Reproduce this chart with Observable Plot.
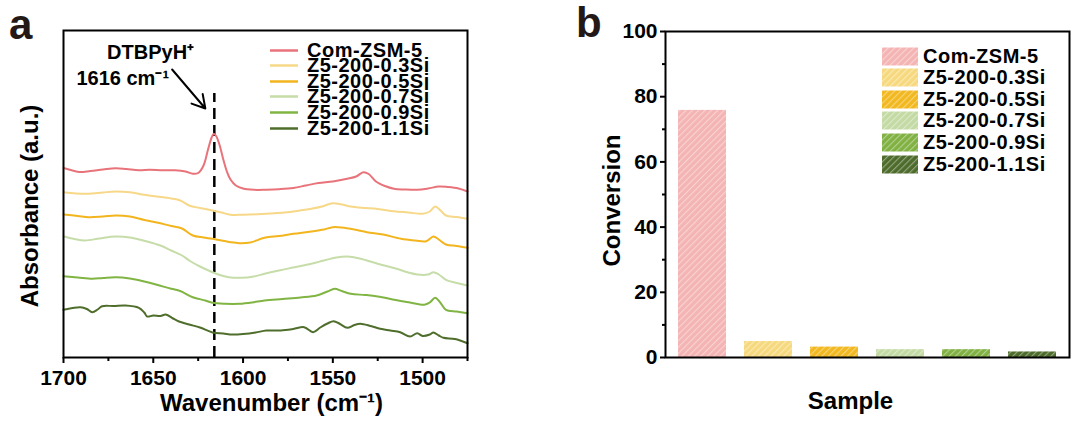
<!DOCTYPE html>
<html>
<head>
<meta charset="utf-8">
<script src="https://cdn.jsdelivr.net/npm/d3@7"></script>
<script src="https://cdn.jsdelivr.net/npm/@observablehq/plot@0.6"></script>
<style>
  html, body { margin: 0; padding: 0; background: #fff; }
  #wrap { position: relative; width: 1073px; height: 428px; font-family: "Liberation Sans", Arial, sans-serif; font-weight: bold; color: #000; }
  .panel { position: absolute; top: 0; }
  .letter { position: absolute; font-size: 42px; line-height: 1; font-weight: bold; color: #231815; }
  .leg { position: absolute; font-size: 20px; white-space: nowrap; letter-spacing: 0.5px; }
  .leg .row { position: absolute; left: 0; display: flex; align-items: center; }
  .leg svg { flex: none; }
  .leg span { display: block; }
</style>
</head>
<body>
<svg width="0" height="0" style="position:absolute">
  <defs id="patdefs"></defs>
</svg>
<div id="wrap">
  <div class="panel" id="pa" style="left:0"></div>
  <div class="panel" id="pb" style="left:560px"></div>
  <div class="letter" style="left:9px;top:4px">a</div>
  <div class="letter" style="left:576px;top:2px">b</div>
  <div class="leg" id="lega" style="left:270px;top:0"></div>
  <div class="leg" id="legb" style="left:882px;top:0"></div>
</div>
<script>
// ---------- data ----------
const seriesNames = ["Com-ZSM-5", "Z5-200-0.3Si", "Z5-200-0.5Si", "Z5-200-0.7Si", "Z5-200-0.9Si", "Z5-200-1.1Si"];
const lineColors = ["#e8737a", "#f6d888", "#f2b51e", "#c6dda9", "#80b443", "#4f6e2c"];
const barColors  = ["#f4b4b4", "#f6d97f", "#f2b820", "#c3daa4", "#80b142", "#4d6b2b"];

// wavenumber (cm-1), absorbance (a.u., offset stacked)
const comZSM5 = [[1700,1.895],[1695,1.87],[1691,1.855],[1685,1.865],[1678,1.88],[1671,1.893],[1665,1.885],[1658,1.872],[1652,1.878],[1645,1.872],[1638,1.872],[1632,1.86],[1628,1.838],[1625,1.845],[1622,1.92],[1619.5,2.08],[1617.5,2.2],[1616.3,2.237],[1615,2.215],[1613,2.12],[1611,1.98],[1609,1.86],[1607,1.78],[1604,1.72],[1600,1.69],[1594,1.677],[1587,1.678],[1580,1.683],[1572,1.695],[1565,1.72],[1558,1.745],[1550,1.76],[1542,1.787],[1537,1.81],[1533,1.853],[1530,1.835],[1526,1.76],[1521,1.715],[1516,1.688],[1510,1.68],[1503,1.677],[1497,1.69],[1491,1.71],[1486,1.705],[1480,1.69],[1475,1.66]];
const si03 = [[1700,1.653],[1693,1.64],[1686,1.637],[1678,1.65],[1671,1.66],[1663,1.652],[1655,1.627],[1648,1.61],[1640,1.59],[1635,1.57],[1630,1.52],[1624,1.495],[1617,1.47],[1612,1.45],[1607,1.428],[1600,1.428],[1592,1.432],[1585,1.44],[1577,1.45],[1570,1.465],[1562,1.487],[1556,1.51],[1550,1.543],[1545,1.53],[1540,1.51],[1534,1.497],[1525,1.485],[1516,1.463],[1508,1.45],[1500,1.437],[1496,1.46],[1493,1.51],[1490,1.47],[1487,1.42],[1481,1.405],[1475,1.387]];
const si05 = [[1700,1.43],[1692,1.415],[1686,1.403],[1678,1.41],[1671,1.42],[1663,1.41],[1655,1.375],[1648,1.35],[1640,1.315],[1634,1.29],[1628,1.22],[1622,1.2],[1617,1.187],[1612,1.17],[1607,1.153],[1602,1.143],[1596,1.15],[1588,1.197],[1580,1.215],[1572,1.237],[1562,1.26],[1555,1.28],[1550,1.303],[1545,1.3],[1538,1.28],[1531,1.253],[1522,1.23],[1512,1.187],[1504,1.17],[1498,1.163],[1494,1.21],[1491,1.18],[1487,1.13],[1481,1.115],[1475,1.097]];
const si07 = [[1700,1.213],[1694,1.185],[1688,1.17],[1680,1.19],[1671,1.21],[1663,1.2],[1654,1.163],[1646,1.12],[1640,1.07],[1634,1.02],[1630,0.97],[1624,0.91],[1617,0.853],[1612,0.82],[1608,0.803],[1601,0.797],[1594,0.81],[1588,0.837],[1580,0.87],[1572,0.9],[1562,0.937],[1555,0.97],[1548,1.0],[1542,1.01],[1535,0.99],[1525,0.937],[1515,0.89],[1508,0.85],[1503,0.83],[1497,0.83],[1494,0.853],[1491,0.83],[1487,0.777],[1481,0.745],[1475,0.72]];
const si09 = [[1700,0.813],[1692,0.8],[1684,0.787],[1678,0.795],[1671,0.803],[1663,0.79],[1655,0.76],[1648,0.727],[1640,0.687],[1635,0.665],[1628,0.603],[1621,0.57],[1617,0.547],[1610,0.537],[1602,0.537],[1595,0.55],[1588,0.57],[1578,0.585],[1568,0.6],[1559,0.62],[1553,0.66],[1549,0.687],[1545,0.665],[1540,0.637],[1532,0.625],[1525,0.61],[1515,0.575],[1507,0.55],[1499,0.527],[1496,0.55],[1493,0.597],[1490,0.545],[1487,0.477],[1481,0.46],[1475,0.443]];
const si11 = [[1700,0.477],[1695,0.495],[1690.5,0.503],[1687,0.485],[1684,0.453],[1681,0.48],[1678.5,0.513],[1672,0.515],[1665.5,0.52],[1658,0.497],[1655,0.45],[1653.4,0.41],[1650,0.42],[1646,0.415],[1643,0.43],[1639,0.39],[1636,0.363],[1630,0.33],[1624,0.3],[1617,0.25],[1611,0.24],[1606,0.23],[1600,0.235],[1593,0.25],[1587,0.27],[1579,0.27],[1572,0.285],[1566,0.303],[1561,0.253],[1557,0.3],[1553,0.34],[1549.6,0.363],[1546,0.335],[1542,0.297],[1538,0.325],[1534.7,0.337],[1529,0.315],[1523.6,0.287],[1518,0.27],[1512.5,0.253],[1507,0.21],[1503,0.243],[1500,0.215],[1496,0.23],[1494,0.25],[1491,0.22],[1488.4,0.197],[1482,0.185],[1475,0.143]];

const xTicksMajor = [1700, 1650, 1600, 1550, 1500];
const xTicksMinor = [1675, 1625, 1575, 1525, 1475];
const peakPosition = 1616;

const conversion = [75.8, 4.9, 3.2, 2.4, 2.4, 1.7];
const yTicksMajor = [0, 20, 40, 60, 80, 100];
const yTicksMinor = [10, 30, 50, 70, 90];

// ---------- build ----------
const FONT = '"Liberation Sans", Arial, sans-serif';
const allSpectra = [comZSM5, si03, si05, si07, si09, si11];
const spectra = allSpectra.flatMap((arr, i) => arr.map(([w, a]) => ({series: seriesNames[i], w, a})));

// hatch patterns
const defs = document.getElementById("patdefs");
barColors.forEach((c, i) => {
  defs.insertAdjacentHTML("beforeend",
    `<pattern id="hatch${i}" patternUnits="userSpaceOnUse" width="4.5" height="4.5" patternTransform="rotate(45)">
       <rect width="4.5" height="4.5" fill="${c}"/>
       <line x1="0.6" y1="0" x2="0.6" y2="4.5" stroke="#ffffff" stroke-width="1" stroke-opacity="0.45"/>
     </pattern>`);
});
const bars = seriesNames.map((s, i) => ({sample: s, value: conversion[i], fill: `url(#hatch${i})`}));

const pa = Plot.plot({
  width: 560, height: 428,
  marginLeft: 63, marginRight: 93, marginTop: 30, marginBottom: 71,
  style: {fontFamily: FONT, fontWeight: "bold", fontSize: "21px", color: "#000", background: "transparent", overflow: "visible"},
  x: {domain: [1700, 1475]},
  y: {domain: [0, 3.27], axis: null},
  color: {domain: seriesNames, range: lineColors},
  marks: [
    Plot.axisX({ticks: xTicksMajor, tickSize: 6, tickPadding: 7, tickFormat: d => String(d), label: null, strokeWidth: 2, fontSize: 21}),
    Plot.axisX({ticks: xTicksMinor, tickSize: 4, tickFormat: () => "", label: null, strokeWidth: 2}),
    Plot.ruleX([peakPosition], {y1: 0, y2: 2.64, stroke: "#000", strokeWidth: 2.5, strokeDasharray: "11,6"}),
    Plot.line(spectra, {x: "w", y: "a", z: "series", stroke: "series", strokeWidth: 2, curve: "catmull-rom"}),
    Plot.text(["DTBPyH⁺"], {x: 1651.5, y: 3.05, text: d => d, fontSize: 20, fill: "#000"}),
    Plot.text(["1616 cm⁻¹"], {x: 1667, y: 2.79, text: d => d, fontSize: 20, fill: "#000"}),
    Plot.arrow([0], {x1: 1639.5, y1: 2.88, x2: 1621, y2: 2.49, stroke: "#000", strokeWidth: 2, headLength: 11, bend: false}),
    Plot.frame({stroke: "#000", strokeWidth: 2}),
    Plot.text(["Wavenumber (cm⁻¹)"], {frameAnchor: "bottom", lineAnchor: "middle", dx: 6, dy: 46, text: d => d, fontSize: 24, fill: "#000"}),
    Plot.text(["Absorbance (a.u.)"], {frameAnchor: "left", textAnchor: "middle", lineAnchor: "middle", dx: -33, dy: 12, rotate: -90, text: d => d, fontSize: 24, fill: "#000"})
  ]
});
document.getElementById("pa").appendChild(pa);

const pb = Plot.plot({
  width: 513, height: 428,
  marginLeft: 105, marginRight: 4, marginTop: 31, marginBottom: 71,
  style: {fontFamily: FONT, fontWeight: "bold", fontSize: "21px", color: "#000", background: "transparent", overflow: "visible"},
  x: {domain: seriesNames, paddingInner: 0.28, paddingOuter: 0.16, axis: null},
  y: {domain: [0, 100], axis: null},
  color: {type: "identity"},
  marks: [
    Plot.barY(bars, {x: "sample", y: "value", fill: "fill"}),
    Plot.axisY({ticks: yTicksMajor, tickSize: 5, tickPadding: 3, label: null, strokeWidth: 2, fontSize: 21}),
    Plot.axisY({ticks: yTicksMinor, tickSize: 3, tickFormat: () => "", label: null, strokeWidth: 2}),
    Plot.frame({stroke: "#000", strokeWidth: 2}),
    Plot.text(["Sample"], {frameAnchor: "bottom", lineAnchor: "middle", dx: -17, dy: 44, text: d => d, fontSize: 24, fill: "#000"}),
    Plot.text(["Conversion"], {frameAnchor: "left", textAnchor: "middle", lineAnchor: "middle", dx: -53, dy: 6, rotate: -90, text: d => d, fontSize: 24, fill: "#000"})
  ]
});
document.getElementById("pb").appendChild(pb);

// legends
const lega = document.getElementById("lega");
seriesNames.forEach((s, i) => {
  const row = document.createElement("div");
  row.className = "row";
  row.style.top = (42.5 + 15.6 * i) + "px";
  row.style.height = "15px";
  row.innerHTML = `<svg width="37" height="15"><line x1="0" x2="28" y1="7.5" y2="7.5" stroke="${lineColors[i]}" stroke-width="2.5"/></svg><span style="line-height:15px;height:15px">${s}</span>`;
  lega.appendChild(row);
});
const legb = document.getElementById("legb");
seriesNames.forEach((s, i) => {
  const row = document.createElement("div");
  row.className = "row";
  row.style.top = (46.5 + 21.6 * i) + "px";
  row.style.height = "19px";
  row.innerHTML = `<svg width="41" height="19"><rect x="0" y="0.5" width="36" height="18" fill="url(#hatch${i})"/></svg><span style="line-height:19px;height:19px">${s}</span>`;
  legb.appendChild(row);
});
</script>
</body>
</html>
